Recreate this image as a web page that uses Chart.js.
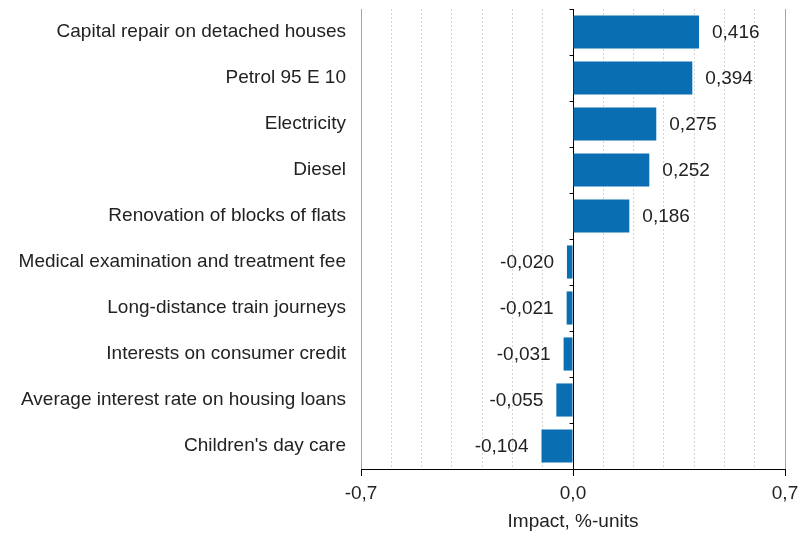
<!DOCTYPE html>
<html>
<head>
<meta charset="utf-8">
<script src="https://cdn.jsdelivr.net/npm/chart.js@4/dist/chart.umd.min.js"></script>
<style>
html,body{margin:0;padding:0;background:#fff;}
canvas{display:block;}
</style>
</head>
<body>
<canvas id="c" width="800" height="536"></canvas>
<script>
const categories = [
  "Capital repair on detached houses",
  "Petrol 95 E 10",
  "Electricity",
  "Diesel",
  "Renovation of blocks of flats",
  "Medical examination and treatment fee",
  "Long-distance train journeys",
  "Interests on consumer credit",
  "Average interest rate on housing loans",
  "Children's day care"
];
const impactValues = [0.416, 0.394, 0.275, 0.252, 0.186, -0.020, -0.021, -0.031, -0.055, -0.104];
const xTickLabels = [-0.7, 0.0, 0.7];
const axisTitle = "Impact, %-units";

const FONT = "'Liberation Sans', Arial, sans-serif";
const TEXT = "#222";
const BAR = "#0a6fb2";

function fmt(v, d) { return v.toFixed(d).replace('.', ','); }
function isLabeled(v) { return xTickLabels.some(t => Math.abs(t - v) < 1e-9); }

const valueLabels = {
  id: 'valueLabels',
  afterDatasetsDraw(chart) {
    const ctx = chart.ctx;
    const meta = chart.getDatasetMeta(0);
    ctx.save();
    ctx.font = "19px " + FONT;
    ctx.fillStyle = TEXT;
    ctx.textBaseline = 'middle';
    meta.data.forEach((bar, i) => {
      const v = impactValues[i];
      const txt = fmt(v, 3);
      if (v >= 0) { ctx.textAlign = 'left'; ctx.fillText(txt, bar.x + 13, bar.y + 1); }
      else { ctx.textAlign = 'right'; ctx.fillText(txt, bar.x - 13, bar.y + 1); }
    });
    ctx.restore();
  }
};

const zeroTicks = {
  id: 'zeroTicks',
  afterDraw(chart) {
    const ctx = chart.ctx;
    const xs = chart.scales.x, ys = chart.scales.y;
    const x0 = Math.round(xs.getPixelForValue(0)) + 0.5;
    ctx.save();
    ctx.strokeStyle = '#000';
    ctx.lineWidth = 1;
    ctx.beginPath();
    for (let i = 0; i < categories.length; i++) {
      const y = Math.round(ys.getPixelForValue(i) - (ys.getPixelForValue(1) - ys.getPixelForValue(0)) / 2) + 0.5;
      ctx.moveTo(x0 - 4, y); ctx.lineTo(x0, y);
    }
    ctx.stroke();
    ctx.restore();
  }
};

new Chart(document.getElementById('c'), {
  type: 'bar',
  data: {
    labels: categories,
    datasets: [{
      data: impactValues,
      backgroundColor: BAR,
      borderWidth: 0,
      barPercentage: 0.72,
      categoryPercentage: 1
    }]
  },
  options: {
    indexAxis: 'y',
    responsive: false,
    devicePixelRatio: 1,
    animation: false,
    layout: { padding: { top: 9, right: 15, bottom: 0, left: 0 } },
    plugins: { legend: { display: false }, tooltip: { enabled: false } },
    scales: {
      x: {
        type: 'linear',
        min: -0.7, max: 0.7,
        afterFit(scale) { scale.height = 67; scale.paddingLeft = 0; scale.paddingRight = 0; },
        ticks: {
          stepSize: 0.1,
          autoSkip: false,
          maxRotation: 0,
          padding: 6,
          color: TEXT,
          font: { family: FONT, size: 19 },
          callback(v) { return isLabeled(v) ? fmt(v, 1) : ''; }
        },
        grid: {
          drawOnChartArea: true,
          drawTicks: true,
          tickLength: 7,
          color(ctx) {
            if (!ctx.tick) return '#ccc';
            const v = ctx.tick.value;
            if (Math.abs(v) < 1e-9) return '#000';
            if (Math.abs(Math.abs(v) - 0.7) < 1e-9) return '#a6a6a6';
            return '#d4d4d4';
          },
          tickColor(ctx) { return ctx.tick && isLabeled(ctx.tick.value) ? '#000' : 'rgba(0,0,0,0)'; },
          tickBorderDash: []
        },
        border: {
          display: true,
          color: '#000',
          width: 1,
          dash(ctx) {
            if (!ctx.tick) return [];
            const v = ctx.tick.value;
            if (Math.abs(v) < 1e-9 || Math.abs(Math.abs(v) - 0.7) < 1e-9) return [];
            return [2, 2];
          }
        },
        title: {
          display: true,
          text: axisTitle,
          color: TEXT,
          font: { family: FONT, size: 19 },
          padding: { top: 4, bottom: 3 }
        }
      },
      y: {
        type: 'category',
        afterFit(scale) { scale.width = 361; scale.paddingTop = 0; scale.paddingBottom = 0; },
        grid: { display: false },
        border: { display: false },
        ticks: {
          color: TEXT,
          padding: 7,
          autoSkip: false,
          font: { family: FONT, size: 19 }
        }
      }
    }
  },
  plugins: [valueLabels, zeroTicks]
});
</script>
</body>
</html>
